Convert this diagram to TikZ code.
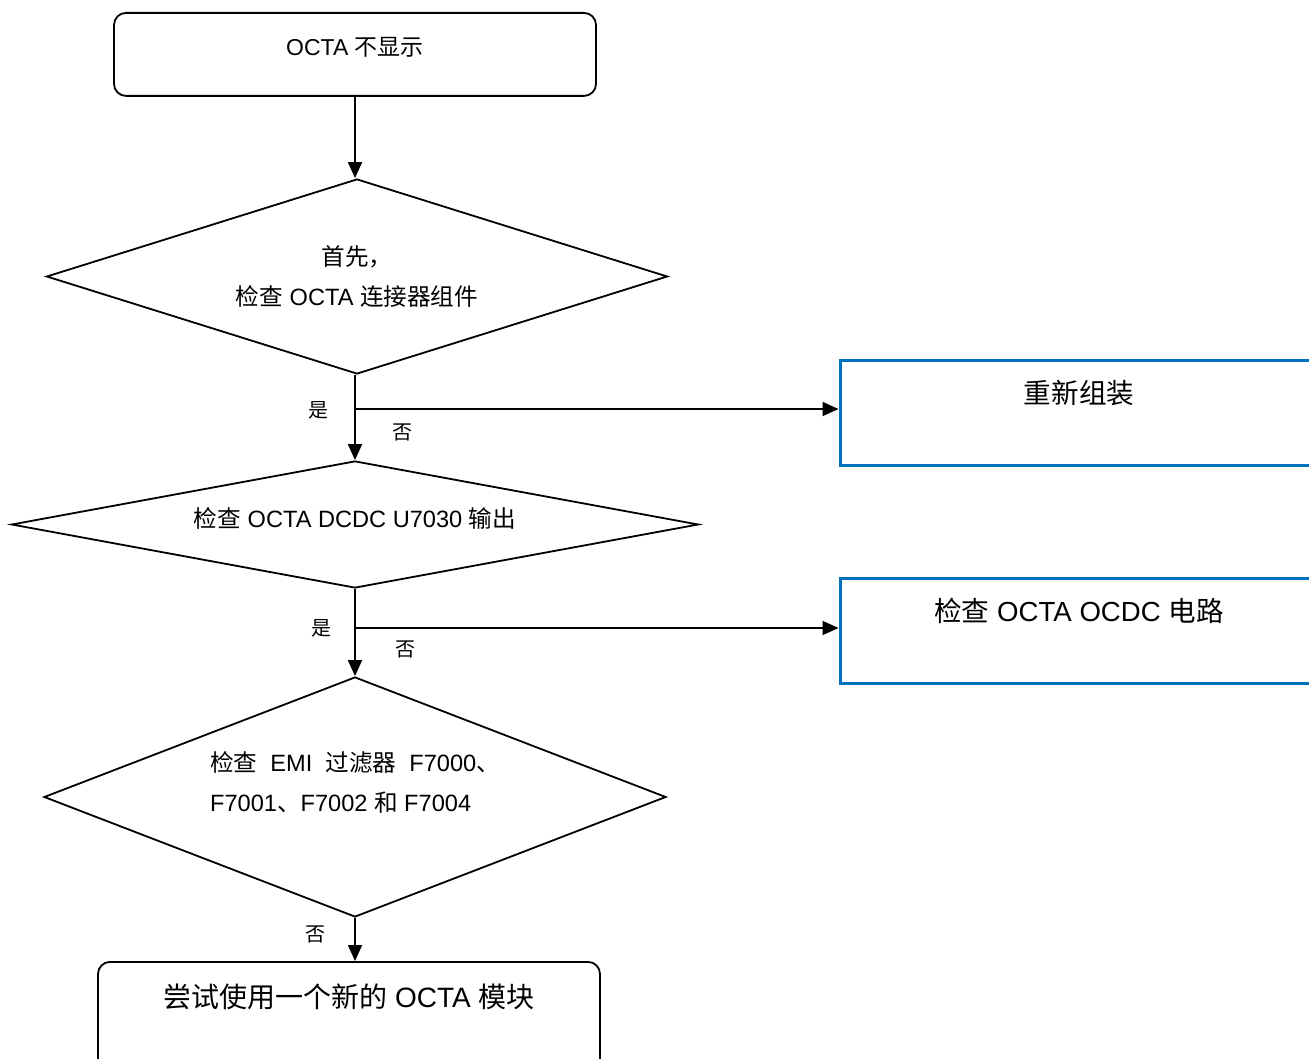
\documentclass[tikz,border=0pt]{standalone}
\usepackage{fontspec}
\setmainfont{Liberation Sans}
\newfontfamily\cjk{Noto Sans CJK SC}
\newcommand\zh[1]{{\cjk #1}}
\usetikzlibrary{shapes.geometric,arrows.meta}
\definecolor{boxblue}{RGB}{0,112,192}
\tikzset{
  wire/.style={line width=1.8pt},
  arr/.style={wire,-{Triangle[length=16pt,width=14pt]}},
  startbox/.style={draw,wire,rounded corners=12pt,inner sep=0pt,font=\fontsize{23}{27}\selectfont},
  check/.style={draw,wire,diamond,inner sep=0pt,align=center,font=\fontsize{23.6}{40}\selectfont},
  fixbox/.style={draw=boxblue,line width=3pt,inner sep=0pt,minimum width=478pt,text height=43pt,text depth=62pt,font=\fontsize{27.6}{32}\selectfont},
  yesno/.style={inner sep=0pt,font=\fontsize{20}{24}\selectfont\cjk}
}
\begin{document}
\begin{tikzpicture}[x=1pt,y=-1pt]
\useasboundingbox[fill=white] (0,0) rectangle (1309,1059);
\node[startbox,minimum width=482pt,text height=43pt,text depth=40pt,anchor=north] (start) at (355,12) {OCTA \zh{不显示}};
\node[check,minimum width=621pt,minimum height=195pt,shape aspect=3.2] (d1) at (357,276.5) {\zh{首先，}\\\zh{检查} OCTA \zh{连接器组件}};
\node[check,minimum width=687pt,minimum height=127pt,shape aspect=5.4,text depth=13pt] (d2) at (355,524.5) {\zh{检查} OCTA DCDC U7030 \zh{输出}};
\node[check,align=left,minimum width=622pt,minimum height=240pt,shape aspect=2.6,text depth=31pt] (d3) at (355,797) {\zh{检查}\ \ EMI\ \ \zh{过滤器}\ \ F7000\zh{、}\\F7001\zh{、}F7002 \zh{和} F7004};
\node[fixbox,anchor=north] (r1) at (1079,359) {\zh{重新组装}};
\node[fixbox,anchor=north] (r2) at (1079,577) {\zh{检查} OCTA OCDC \zh{电路}};
\node[startbox,minimum width=502pt,text height=46pt,text depth=68pt,anchor=north,font=\fontsize{28}{32}\selectfont] (last) at (349,961) {\zh{尝试使用一个新的} OCTA \zh{模块}};
\coordinate (b1) at (355,409);
\coordinate (b2) at (355,628);
\draw[arr] (start) -- (start.south |- d1.north);
\draw[arr] (d1.south -| start) -- (d2);
\draw[arr] (d2) -- (d3);
\draw[arr] (d3) -- (d3.south |- last.north);
\foreach \b/\r in {b1/r1,b2/r2} \draw[arr] (\b) -- (\b -| \r.west);
\node[yesno] (yes1) at (318,410) {是};
\node[yesno] (no1) at (402,432) {否};
\node[yesno] (yes2) at (321,628) {是};
\node[yesno] (no2) at (405,649) {否};
\node[yesno] (no3) at (315,934) {否};
\end{tikzpicture}
\end{document}
